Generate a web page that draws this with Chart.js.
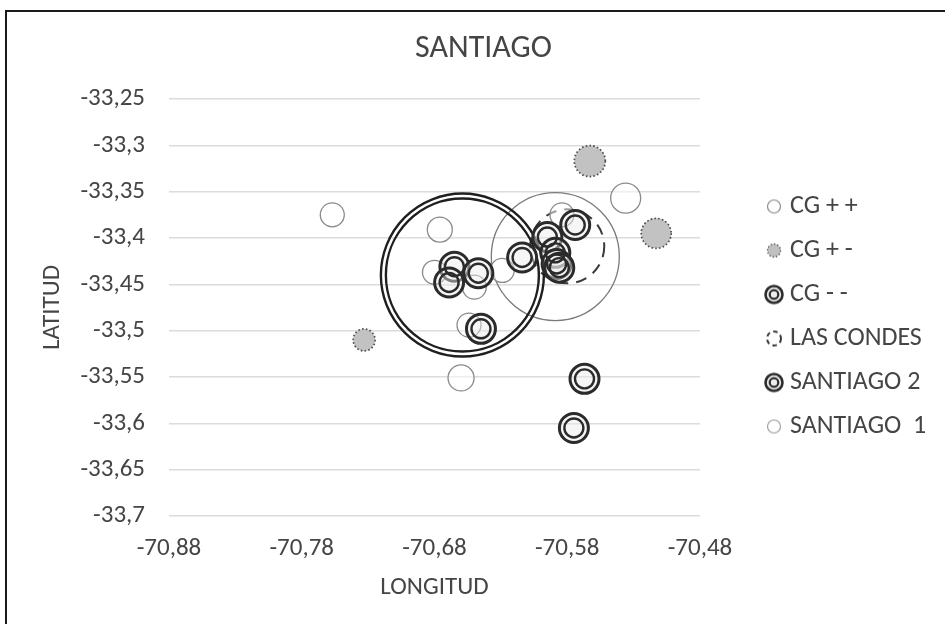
<!DOCTYPE html>
<html>
<head>
<meta charset="utf-8">
<script src="https://cdn.jsdelivr.net/npm/chart.js@4/dist/chart.umd.min.js"></script>
<style>
  html, body { margin: 0; padding: 0; background: #fff; overflow: hidden; width: 945px; height: 624px; }
  #frame { position: absolute; left: 5px; top: 10px; width: 1200px; height: 900px; border: 2px solid #1a1a1a; }
  #wrap { position: absolute; left: 0; top: 0; width: 945px; height: 624px; }
</style>
</head>
<body>
<div id="frame"></div>
<div id="wrap"><canvas id="c" width="945" height="624"></canvas></div>
<script>
const FONT = "Carlito, Lato, sans-serif";
const TEXT = '#454545';

// Axis ranges and steps
const lonMin = -70.88, lonMax = -70.48, lonStep = 0.1;
const latMin = -33.7, latMax = -33.25, latStep = 0.05;

// CG + +
const cgPPLon  = [-70.757, -70.676, -70.680, -70.629, -70.650, -70.654, -70.660, -70.536, -70.584];
const cgPPLat  = [-33.375, -33.391, -33.437, -33.435, -33.453, -33.494, -33.551, -33.357, -33.375];
const cgPPSize = [12, 12.5, 12, 12, 12, 12, 13, 15, 12];

// CG + -
const cgPMLon  = [-70.733, -70.563, -70.513];
const cgPMLat  = [-33.510, -33.317, -33.395];
const cgPMSize = [11, 15.5, 15];

// CG - -
const cgMMLon  = [-70.665, -70.669, -70.647, -70.645, -70.614, -70.595, -70.574, -70.589, -70.588, -70.586, -70.567, -70.575];
const cgMMLat  = [-33.431, -33.448, -33.438, -33.498, -33.421, -33.399, -33.386, -33.416, -33.428, -33.432, -33.552, -33.605];
const cgMMSize = [14.5, 14.5, 14.5, 14.5, 14.5, 14.5, 14.5, 14.5, 14.5, 14.5, 14.5, 14.5];

// Commune areas
const lasCondesLon = [-70.580], lasCondesLat = [-33.409], lasCondesSize = [37];
const santiago2Lon = [-70.659], santiago2Lat = [-33.440], santiago2Size = [81.5];
const santiago1Lon = [-70.589], santiago1Lat = [-33.420], santiago1Size = [64];

const pts = (lon, lat, size, shrink = 0) => lon.map((x, i) => ({ x, y: lat[i], r: size[i] - shrink }));
const fmt = v => (Math.round(v * 100) / 100).toString().replace('.', ',');

// small canvases used as legend symbols
function icon(draw) {
  const c = document.createElement('canvas');
  c.width = 24; c.height = 24;
  const g = c.getContext('2d');
  draw(g);
  return c;
}
function ring(g, r, w, color, fill, dash) {
  g.beginPath();
  g.setLineDash(dash || []);
  g.arc(12, 12, r, 0, Math.PI * 2);
  if (fill) { g.fillStyle = fill; g.fill(); }
  g.lineWidth = w; g.strokeStyle = color; g.stroke();
}
const legendIcons = [
  icon(g => ring(g, 6.5, 1.2, '#8a8a8a', '#fff')),
  icon(g => ring(g, 6.5, 1.3, '#555', '#c0c0c0', [1.5, 1.8])),
  icon(g => { ring(g, 8.5, 2.6, '#2b2b2b', '#eee'); ring(g, 4.3, 2.2, '#2b2b2b'); }),
  icon(g => ring(g, 7, 2, '#3a3a3a', null, [4.5, 3.5])),
  icon(g => { ring(g, 8.5, 2.6, '#2b2b2b', '#eee'); ring(g, 4.3, 2.2, '#2b2b2b'); }),
  icon(g => ring(g, 6.5, 1.1, '#9a9a9a', '#fff'))
];
const legendNames = ['CG + +', 'CG + -', 'CG - -', 'LAS CONDES', 'SANTIAGO 2', 'SANTIAGO  1'];

const datasets = [
  { label: 'CG + +', data: pts(cgPPLon, cgPPLat, cgPPSize),
    backgroundColor: 'rgba(255,255,255,0.5)', borderColor: '#8a8a8a', borderWidth: 1.3, order: 3 },
  { label: 'CG + -', data: pts(cgPMLon, cgPMLat, cgPMSize),
    backgroundColor: '#c2c2c2', borderColor: '#4d4d4d', borderWidth: 1.7, dash: [1.6, 2.2], order: 2 },
  { label: 'CG - -', data: pts(cgMMLon, cgMMLat, cgMMSize),
    backgroundColor: 'rgba(235,235,235,0.45)', borderColor: '#2b2b2b', borderWidth: 3, order: 1 },
  { label: 'CG - - (inner)', data: pts(cgMMLon, cgMMLat, cgMMSize, 5),
    backgroundColor: 'rgba(0,0,0,0)', borderColor: '#2b2b2b', borderWidth: 2.4, order: 0 },
  { label: 'LAS CONDES', data: pts(lasCondesLon, lasCondesLat, lasCondesSize),
    backgroundColor: 'rgba(0,0,0,0)', borderColor: '#3a3a3a', borderWidth: 2, dash: [11, 8], order: 6 },
  { label: 'SANTIAGO 2', data: pts(santiago2Lon, santiago2Lat, santiago2Size),
    backgroundColor: 'rgba(0,0,0,0)', borderColor: '#1f1f1f', borderWidth: 2.4, order: 5 },
  { label: 'SANTIAGO 2 (inner)', data: pts(santiago2Lon, santiago2Lat, santiago2Size, 5),
    backgroundColor: 'rgba(0,0,0,0)', borderColor: '#1f1f1f', borderWidth: 2.4, order: 5 },
  { label: 'SANTIAGO 1', data: pts(santiago1Lon, santiago1Lat, santiago1Size),
    backgroundColor: 'rgba(0,0,0,0)', borderColor: '#7a7a7a', borderWidth: 1.3, order: 7 }
];

// dashed / dotted outlines for datasets that ask for them
const dashPlugin = {
  id: 'dashOutline',
  beforeDatasetDraw(chart, args) {
    const ds = chart.data.datasets[args.index];
    chart.ctx.save();
    chart.ctx.setLineDash(ds.dash || []);
  },
  afterDatasetDraw(chart) { chart.ctx.restore(); }
};

// fixed legend column width
const LEGEND_W = 192;
const legendWidthPlugin = {
  id: 'legendWidth',
  beforeLayout(chart) {
    const lg = chart.legend;
    if (lg && !lg._fixedWidth) {
      const fit = lg.fit.bind(lg);
      lg.fit = function () { fit(); this.width = LEGEND_W; };
      lg._fixedWidth = true;
    }
  }
};

new Chart(document.getElementById('c'), {
  type: 'bubble',
  data: { datasets },
  plugins: [dashPlugin, legendWidthPlugin],
  options: {
    responsive: false,
    animation: false,
    layout: { padding: { left: 22, right: 0, top: 10, bottom: 17 } },
    plugins: {
      tooltip: { enabled: false },
      title: {
        display: true, text: 'SANTIAGO', color: TEXT,
        font: { family: FONT, size: 32, weight: 'normal' },
        padding: { top: 20, bottom: 30.6 }
      },
      legend: {
        position: 'right', fullSize: false,
        title: { display: true, text: ' ', font: { family: FONT, size: 15 }, padding: 0 },
        labels: {
          usePointStyle: true, boxWidth: 6, boxHeight: 6, padding: 18,
          color: TEXT, font: { family: FONT, size: 26 },
          generateLabels: () => legendNames.map((text, i) => ({
            text, pointStyle: legendIcons[i], fontColor: TEXT,
            fillStyle: '#fff', strokeStyle: '#fff', lineWidth: 0, hidden: false
          }))
        }
      }
    },
    scales: {
      x: {
        type: 'linear', min: lonMin, max: lonMax,
        ticks: { stepSize: lonStep, padding: 18, color: TEXT, font: { family: FONT, size: 25 },
                 maxRotation: 0, autoSkip: false, callback: v => fmt(v) },
        grid: { display: false, drawTicks: false },
        border: { display: false },
        title: { display: true, text: 'LONGITUD', color: TEXT, font: { family: FONT, size: 25 },
                 padding: { top: 3, bottom: 4 } },
        afterFit: s => { s.height = 91; }
      },
      y: {
        type: 'linear', min: latMin, max: latMax,
        ticks: { stepSize: latStep, padding: 24, color: TEXT, font: { family: FONT, size: 25 },
                 autoSkip: false, callback: v => fmt(v) },
        grid: { color: '#dcdcdc', lineWidth: 1.4, drawTicks: false },
        border: { display: false },
        title: { display: true, text: 'LATITUD', color: TEXT, font: { family: FONT, size: 25 },
                 padding: { top: 16, bottom: 0 } },
        afterFit: s => { s.width = 147; }
      },
      yR: {
        type: 'linear', position: 'right', display: true,
        grid: { display: false, drawTicks: false }, ticks: { display: false }, border: { display: false },
        afterFit: s => { s.width = 53; }
      }
    }
  }
});
</script>
</body>
</html>
